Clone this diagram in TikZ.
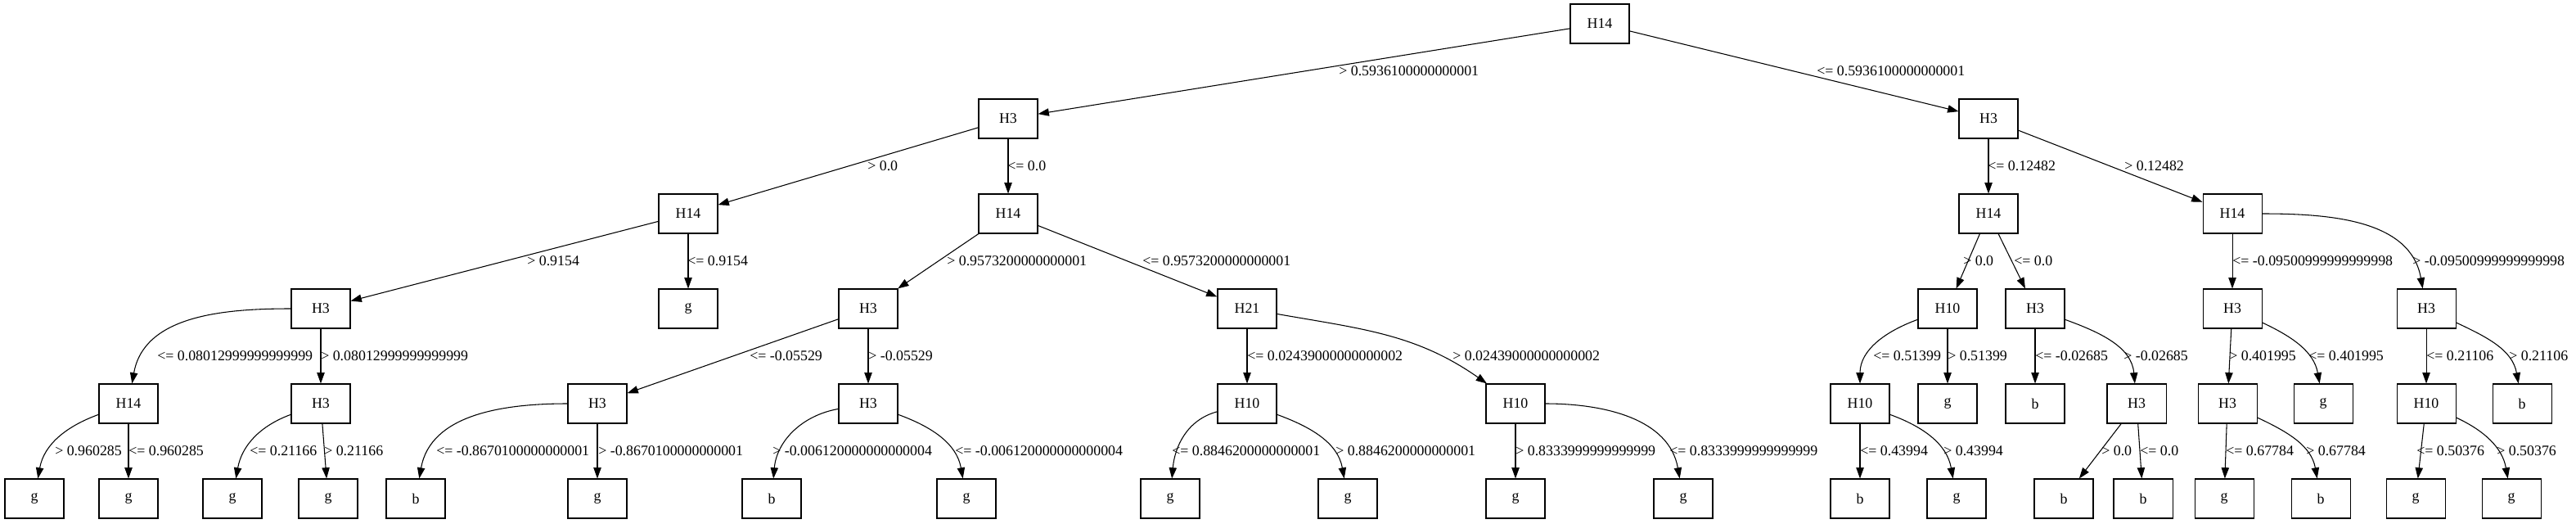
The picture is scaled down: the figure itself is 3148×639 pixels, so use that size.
\documentclass[tikz,border=0pt]{standalone}
\usepackage{fontspec}
\setmainfont{Liberation Serif}
\usetikzlibrary{arrows.meta}

\begin{document}
\begin{tikzpicture}[x=0.75pt,y=0.75pt] % decision tree, one unit = one pixel
\tikzstyle{every node}+=[inner sep=0pt,font=\fontsize{13.4}{16}\selectfont]
\tikzstyle{box}=[draw,black,line width=0.8pt,minimum width=54pt,minimum height=36pt]
\tikzstyle{edge}=[black,line width=0.8pt,-{Triangle[length=10pt,width=7pt]}]
\tikzstyle{lbl}=[anchor=west]
\useasboundingbox (0,0) rectangle (3148,-639);
% row 0 and 1
\node [box] (root) at (1955,-29) {H14};
\node [box] (L) at (1232,-145) {H3};
\node [box] (R) at (2430,-145) {H3};
% row 2
\node [box] (LL) at (841,-261) {H14};
\node [box] (LR) at (1232,-261) {H14};
\node [box] (RL) at (2430,-261) {H14};
\node [box] (RR) at (2728,-261) {H14};
% row 3
\node [box] (LLL) at (392,-377) {H3};
\node [box] (LLR) at (841,-377) {g};
\node [box] (LRL) at (1061,-377) {H3};
\node [box] (LRR) at (1524,-377) {H21};
\node [box] (RLL) at (2380,-377) {H10};
\node [box] (RLR) at (2487,-377) {H3};
\node [box] (RRL) at (2728,-377) {H3};
\node [box] (RRR) at (2965,-377) {H3};
% row 4
\node [box] (LLLL) at (157,-493) {H14};
\node [box] (LLLR) at (392,-493) {H3};
\node [box] (LRLL) at (730,-493) {H3};
\node [box] (LRLR) at (1061,-493) {H3};
\node [box] (LRRL) at (1524,-493) {H10};
\node [box] (LRRR) at (1852,-493) {H10};
\node [box] (RLLL) at (2273,-493) {H10};
\node [box] (RLLR) at (2380,-493) {g};
\node [box] (RLRL) at (2487,-493) {b};
\node [box] (RLRR) at (2611,-493) {H3};
\node [box] (RRLL) at (2722,-493) {H3};
\node [box] (RRLR) at (2839,-493) {g};
\node [box] (RRRL) at (2965,-493) {H10};
\node [box] (RRRR) at (3082,-493) {b};
% row 5
\node [box] (LLLLL) at (42,-609) {g};
\node [box] (LLLLR) at (157,-609) {g};
\node [box] (LLLRL) at (284,-609) {g};
\node [box] (LLLRR) at (401,-609) {g};
\node [box] (LRLLL) at (508,-609) {b};
\node [box] (LRLLR) at (730,-609) {g};
\node [box] (LRLRL) at (943,-609) {b};
\node [box] (LRLRR) at (1181,-609) {g};
\node [box] (LRRLL) at (1430,-609) {g};
\node [box] (LRRLR) at (1647,-609) {g};
\node [box] (LRRRL) at (1852,-609) {g};
\node [box] (LRRRR) at (2057,-609) {g};
\node [box] (RLLLL) at (2273,-609) {b};
\node [box] (RLLLR) at (2391,-609) {g};
\node [box] (RLRRL) at (2522,-609) {b};
\node [box] (RLRRR) at (2619,-609) {b};
\node [box] (RRLLL) at (2718,-609) {g};
\node [box] (RRLLR) at (2836,-609) {b};
\node [box] (RRRLL) at (2952,-609) {g};
\node [box] (RRRLR) at (3069,-609) {g};
% edges, rows 0-2
\draw [edge] (root) -- (L);
\node [lbl] (eL) at (1636,-87) {> 0.5936100000000001};
\draw [edge] (root) -- (R);
\node [lbl] (eR) at (2220,-87) {<= 0.5936100000000001};
\draw [edge] (L) -- (LL);
\node [lbl] (eLL) at (1060,-203) {> 0.0};
\draw [edge] (L) -- (LR);
\node [lbl] (eLR) at (1231,-203) {<= 0.0};
\draw [edge] (R) -- (RL);
\node [lbl] (eRL) at (2429,-203) {<= 0.12482};
\draw [edge] (R) -- (RR);
\node [lbl] (eRR) at (2596,-203) {> 0.12482};
% rows 2-3
\draw [edge] (LL) -- (LLL);
\node [lbl] (eLLL) at (644,-319) {> 0.9154};
\draw [edge] (LL) -- (LLR);
\node [lbl] (eLLR) at (840,-319) {<= 0.9154};
\draw [edge] (LR) -- (LRL);
\node [lbl] (eLRL) at (1157,-319) {> 0.9573200000000001};
\draw [edge] (LR) -- (LRR);
\node [lbl] (eLRR) at (1396,-319) {<= 0.9573200000000001};
\draw [edge] (RL) -- (RLL);
\node [lbl] (eRLL) at (2399,-319) {> 0.0};
\draw [edge] (RL) -- (RLR);
\node [lbl] (eRLR) at (2461,-319) {<= 0.0};
\draw [edge] (RR) -- (RRL);
\node [lbl] (eRRL) at (2728,-319) {<= -0.09500999999999998};
\draw [edge] (RR) to[out=0,in=100] (RRR);
\node [lbl] (eRRR) at (2948,-319) {> -0.09500999999999998};
% rows 3-4
\draw [edge] (LLL) to[out=180,in=80] (LLLL);
\node [lbl] (eLLLL) at (192,-435) {<= 0.08012999999999999};
\draw [edge] (LLL) -- (LLLR);
\node [lbl] (eLLLR) at (392,-435) {> 0.08012999999999999};
\draw [edge] (LRL) -- (LRLL);
\node [lbl] (eLRLL) at (916,-435) {<= -0.05529};
\draw [edge] (LRL) -- (LRLR);
\node [lbl] (eLRLR) at (1061,-435) {> -0.05529};
\draw [edge] (LRR) -- (LRRL);
\node [lbl] (eLRRL) at (1524,-435) {<= 0.02439000000000002};
\draw [edge] (LRR) to[out=-10,in=145] (LRRR);
\node [lbl] (eLRRR) at (1775,-435) {> 0.02439000000000002};
\draw [edge] (RLL) to[out=200,in=90] (RLLL);
\node [lbl] (eRLLL) at (2289,-435) {<= 0.51399};
\draw [edge] (RLL) -- (RLLR);
\node [lbl] (eRLLR) at (2380,-435) {> 0.51399};
\draw [edge] (RLR) -- (RLRL);
\node [lbl] (eRLRL) at (2487,-435) {<= -0.02685};
\draw [edge] (RLR) to[out=-20,in=95] (RLRR);
\node [lbl] (eRLRR) at (2595,-435) {> -0.02685};
\draw [edge] (RRL) -- (RRLL);
\node [lbl] (eRRLL) at (2724,-435) {> 0.401995};
\draw [edge] (RRL) to[out=-25,in=100] (RRLR);
\node [lbl] (eRRLR) at (2821,-435) {<= 0.401995};
\draw [edge] (RRR) -- (RRRL);
\node [lbl] (eRRRL) at (2965,-435) {<= 0.21106};
\draw [edge] (RRR) to[out=-25,in=100] (RRRR);
\node [lbl] (eRRRR) at (3066,-435) {> 0.21106};
% rows 4-5
\draw [edge] (LLLL) to[out=200,in=80] (LLLLL);
\node [lbl] (eLLLLL) at (67,-551) {> 0.960285};
\draw [edge] (LLLL) -- (LLLLR);
\node [lbl] (eLLLLR) at (157,-551) {<= 0.960285};
\draw [edge] (LLLR) to[out=200,in=80] (LLLRL);
\node [lbl] (eLLLRL) at (305,-551) {<= 0.21166};
\draw [edge] (LLLR) -- (LLLRR);
\node [lbl] (eLLLRR) at (396,-551) {> 0.21166};
\draw [edge] (LRLL) to[out=180,in=80] (LRLLL);
\node [lbl] (eLRLLL) at (533,-551) {<= -0.8670100000000001};
\draw [edge] (LRLL) -- (LRLLR);
\node [lbl] (eLRLLR) at (731,-551) {> -0.8670100000000001};
\draw [edge] (LRLR) to[out=190,in=85] (LRLRL);
\node [lbl] (eLRLRL) at (944,-551) {> -0.006120000000000004};
\draw [edge] (LRLR) to[out=-20,in=100] (LRLRR);
\node [lbl] (eLRLRR) at (1167,-551) {<= -0.006120000000000004};
\draw [edge] (LRRL) to[out=195,in=85] (LRRLL);
\node [lbl] (eLRRLL) at (1432,-551) {<= 0.8846200000000001};
\draw [edge] (LRRL) to[out=-20,in=100] (LRRLR);
\node [lbl] (eLRRLR) at (1632,-551) {> 0.8846200000000001};
\draw [edge] (LRRR) -- (LRRRL);
\node [lbl] (eLRRRL) at (1852,-551) {> 0.8333999999999999};
\draw [edge] (LRRR) to[out=0,in=100] (LRRRR);
\node [lbl] (eLRRRR) at (2040,-551) {<= 0.8333999999999999};
\draw [edge] (RLLL) -- (RLLLL);
\node [lbl] (eRLLLL) at (2273,-551) {<= 0.43994};
\draw [edge] (RLLL) to[out=-20,in=100] (RLLLR);
\node [lbl] (eRLLLR) at (2375,-551) {> 0.43994};
\draw [edge] (RLRR) -- (RLRRL);
\node [lbl] (eRLRRL) at (2568,-551) {> 0.0};
\draw [edge] (RLRR) -- (RLRRR);
\node [lbl] (eRLRRR) at (2615,-551) {<= 0.0};
\draw [edge] (RRLL) -- (RRLLL);
\node [lbl] (eRRLLL) at (2720,-551) {<= 0.67784};
\draw [edge] (RRLL) to[out=-25,in=100] (RRLLR);
\node [lbl] (eRRLLR) at (2818,-551) {> 0.67784};
\draw [edge] (RRRL) -- (RRRLL);
\node [lbl] (eRRRLL) at (2953,-551) {<= 0.50376};
\draw [edge] (RRRL) to[out=-25,in=100] (RRRLR);
\node [lbl] (eRRRLR) at (3051,-551) {> 0.50376};
\end{tikzpicture}
\end{document}
